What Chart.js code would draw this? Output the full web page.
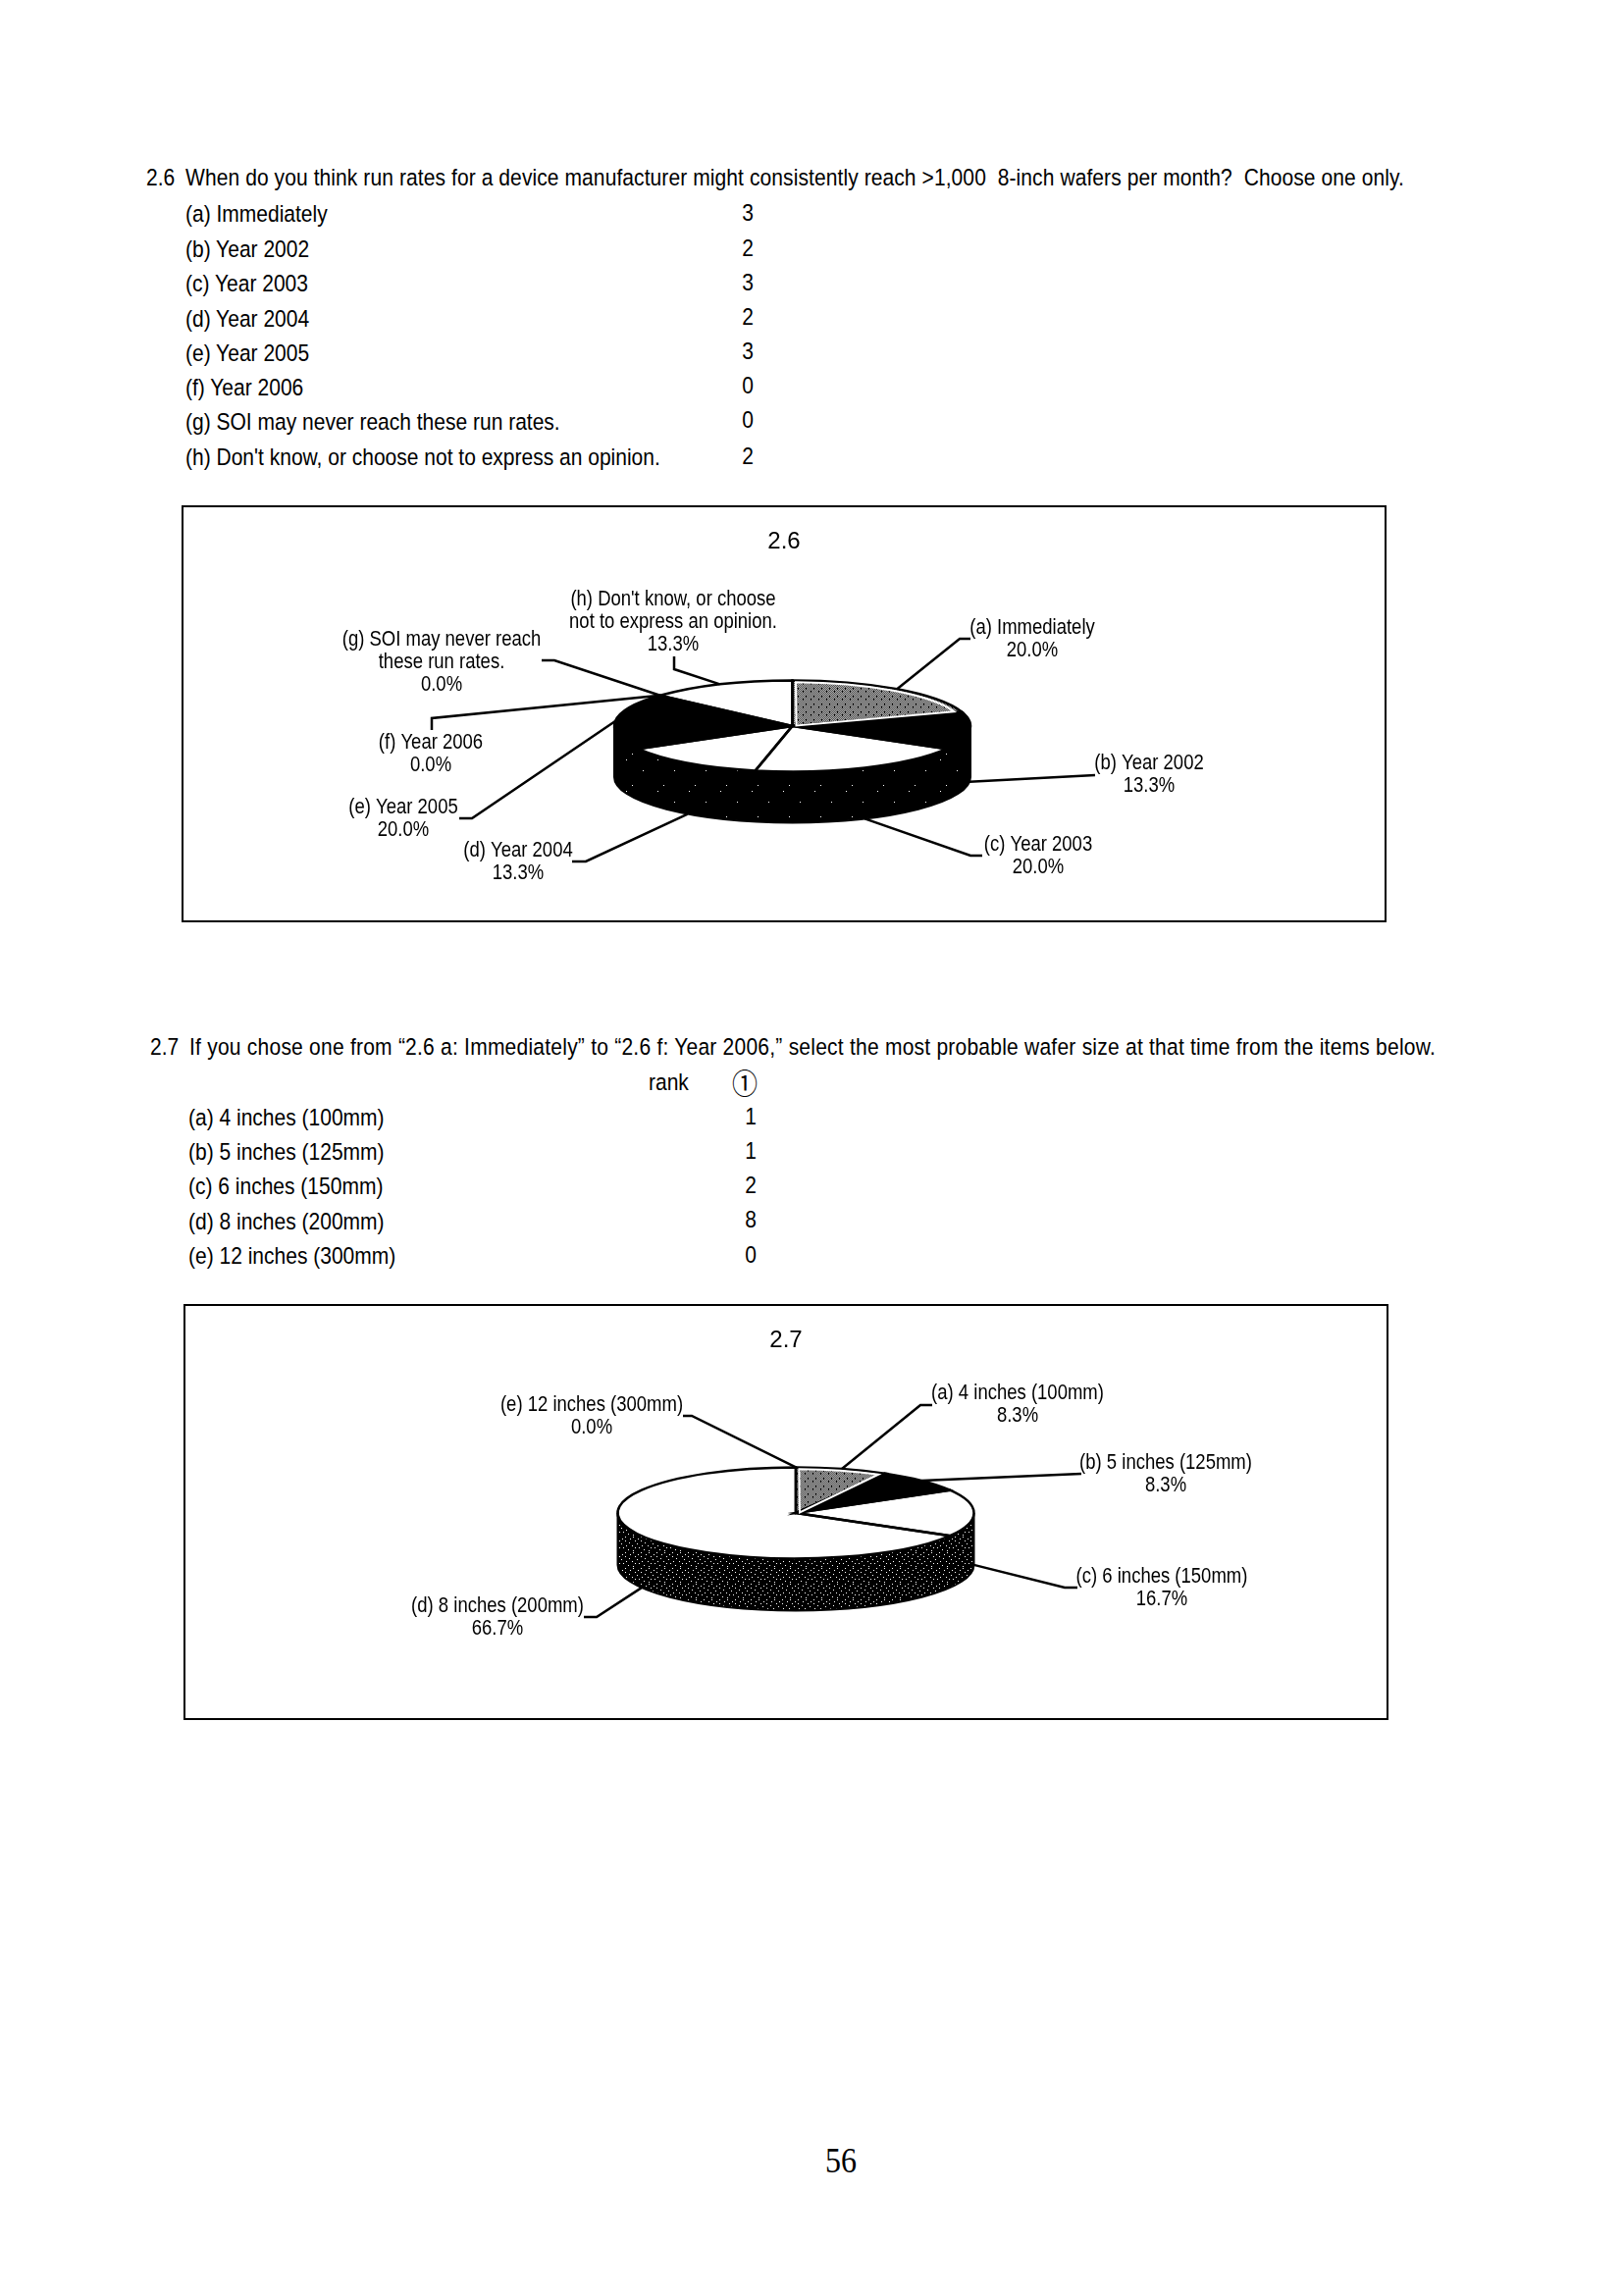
<!DOCTYPE html>
<html>
<head>
<meta charset="utf-8">
<title>2.6 / 2.7</title>
<script src="https://cdn.jsdelivr.net/npm/chart.js@4"></script>
<style>
  html, body { margin: 0; background: #fff; }
  #page { position: relative; width: 1654px; height: 2340px; overflow: hidden; }
  .t { position: absolute; white-space: pre; color: #000; line-height: 1; transform: translateY(-50%) scaleY(1.15);
       font-family: "Liberation Sans", sans-serif; font-size: 21px; }
  .c { transform: translate(-50%, -50%) scaleY(1.15); }
  canvas { position: absolute; outline: 2.5px solid #000; outline-offset: -2.5px; }
</style>
</head>
<body>
<div id="page"></div>
<script>
// question 2.6
const q26 = "When do you think run rates for a device manufacturer might consistently reach >1,000  8-inch wafers per month?  Choose one only.";
const cats26 = ["(a) Immediately", "(b) Year 2002", "(c) Year 2003", "(d) Year 2004", "(e) Year 2005", "(f) Year 2006",
  "(g) SOI may never reach these run rates.", "(h) Don't know, or choose not to express an opinion."];
const vals26 = [3, 2, 3, 2, 3, 0, 0, 2];
const lines26 = [["(a) Immediately"], ["(b) Year 2002"], ["(c) Year 2003"], ["(d) Year 2004"], ["(e) Year 2005"], ["(f) Year 2006"],
  ["(g) SOI may never reach", "these run rates."], ["(h) Don't know, or choose", "not to express an opinion."]];

// question 2.7
const q27 = "If you chose one from \u201C2.6 a: Immediately\u201D to \u201C2.6 f: Year 2006,\u201D select the most probable wafer size at that time from the items below.";
const cats27 = ["(a) 4 inches (100mm)", "(b) 5 inches (125mm)", "(c) 6 inches (150mm)", "(d) 8 inches (200mm)", "(e) 12 inches (300mm)"];
const vals27 = [1, 1, 2, 8, 0];

const page = document.getElementById("page");

function text(x, y, str, opts) {
  opts = opts || {};
  const el = document.createElement("div");
  el.className = opts.center ? "t c" : "t";
  el.style.left = x + "px";
  el.style.top = y + "px";
  if (opts.size) el.style.fontSize = opts.size + "px";
  if (opts.font) el.style.fontFamily = opts.font;
  el.textContent = str;
  page.appendChild(el);
  // stretch the long question lines to their printed width
  if (opts.width) {
    const extra = (opts.width - el.getBoundingClientRect().width) / str.length;
    el.style.letterSpacing = extra + "px";
  }
}

// page text
text(149, 180, "2.6");
text(189, 180, q26, { width: 1242 });
const rowY26 = [217, 253, 288, 324, 359, 394, 429, 465];
const valY26 = [216, 252, 287, 322, 357, 392, 427, 464];
cats26.forEach((c, i) => {
  text(189, rowY26[i], c);
  text(762, valY26[i], String(vals26[i]), { center: true });
});

text(153, 1066, "2.7");
text(193, 1066, q27, { width: 1270 });
text(661, 1102, "rank");
text(759, 1102, "\u2460", { center: true, size: 26, font: '"Noto Sans CJK JP"' });
const rowY27 = [1138, 1173, 1208, 1244, 1279];
const valY27 = [1137, 1172, 1207, 1242, 1278];
cats27.forEach((c, i) => {
  text(192, rowY27[i], c);
  text(765, valY27[i], String(vals27[i]), { center: true });
});
text(857, 2201, "56", { center: true, size: 32, font: '"Liberation Serif"' });

// small pixel tiles for the scanned halftone
function tile(rows, on, off) {
  const h = rows.length, w = rows[0].length;
  const cv = document.createElement("canvas");
  cv.width = w; cv.height = h;
  const g = cv.getContext("2d");
  for (let y = 0; y < h; y++) {
    for (let x = 0; x < w; x++) {
      g.fillStyle = rows[y][x] == "#" ? on : off;
      g.fillRect(x, y, 1, 1);
    }
  }
  return g.createPattern(cv, "repeat");
}
const grayRows = [
  "#.#.#.#.", ".#.#.#.#", "#.#.#.#.", ".#.###.#",
  "#.#.#.#.", ".#.#.#.#", "###.#.#.", ".#.#.#.#"];
const side26 = tile([
  "################################", "################################", "################################", "#####.##########################",
  "################################", "################################", "################################", "################################",
  "################################", "################################", "################################", "################################",
  "################################", "################################", "######################.#########", "################################",
  "################################", "################################", "################################", "################################",
  "################################", "################################", "################################", "################################",
  "################################", "################################", "################################", "################################",
  "################################", "###########.####################", "################################", "################################"], "#000", "#fff");
const side27 = tile([
  "################", "##.#########.###", "################", "######.#########",
  "##############.#", "################", "###.#####.######", "################",
  ".###########.###", "################", "#####.##########", "##########.#####",
  "################", "##.#######.#####", "################", "#######.#######."], "#000", "#fff");

function pie3d(cfg) {
  const tilt = 46.5 / 181.5;
  const toLocal = (p) => [p[0] - cfg.left, p[1] - cfg.top];

  function wedge(ctx, arc, radius) {
    ctx.beginPath();
    ctx.moveTo(arc.x, arc.y);
    ctx.arc(arc.x, arc.y, radius, arc.startAngle, arc.endAngle);
    ctx.closePath();
  }

  return {
    id: "pie3d",
    afterLayout(chart) {
      // title is centred on the whole frame, not on the padded plot
      chart.titleBlock.left = 0;
    },
    beforeDatasetsDraw(chart) {
      const ctx = chart.ctx;
      const a0 = chart.getDatasetMeta(0).data[0];
      // side wall, front half of the ellipse only
      ctx.beginPath();
      ctx.ellipse(a0.x, a0.y, a0.outerRadius, a0.outerRadius * tilt, 0, 0, Math.PI);
      ctx.ellipse(a0.x, a0.y + cfg.depth, a0.outerRadius, a0.outerRadius * tilt, 0, Math.PI, 0, true);
      ctx.closePath();
      ctx.fillStyle = cfg.side;
      ctx.fill();
      ctx.lineWidth = 2;
      ctx.strokeStyle = "#000";
      ctx.stroke();
      // squash the flat chart.js pie into the top of the disc
      ctx.save();
      ctx.translate(a0.x, a0.y);
      ctx.scale(1, tilt);
      ctx.translate(-a0.x, -a0.y);
    },
    afterDatasetsDraw(chart) {
      const ctx = chart.ctx;
      const arcs = chart.getDatasetMeta(0).data;
      // still squashed here: build the path, stroke it after the restore so line widths stay even
      const transform = ctx.getTransform();
      ctx.restore();
      const plain = ctx.getTransform();

      arcs.forEach((arc) => {
        if (arc.endAngle - arc.startAngle < 1e-6) return;
        ctx.setTransform(transform);
        wedge(ctx, arc, arc.outerRadius);
        ctx.setTransform(plain);
        ctx.lineWidth = 2.5;
        ctx.strokeStyle = "#000";
        ctx.stroke();
      });

      // white halo inside the patterned wedge
      const g = arcs[0];
      ctx.setTransform(transform);
      ctx.beginPath();
      ctx.moveTo(g.x + 4, g.y - 2);
      ctx.arc(g.x, g.y, g.outerRadius - 7, g.startAngle + 0.02, g.endAngle - 0.02);
      ctx.closePath();
      ctx.setTransform(plain);
      ctx.lineWidth = 2;
      ctx.strokeStyle = "#fff";
      ctx.stroke();

      // leaders run from the middle of each slice's rim
      ctx.lineWidth = 2.5;
      ctx.strokeStyle = "#000";
      ctx.fillStyle = "#000";
      ctx.font = '18.5px "Liberation Sans", sans-serif';
      ctx.textAlign = "center";
      ctx.textBaseline = "middle";
      arcs.forEach((arc, i) => {
        const mid = (arc.startAngle + arc.endAngle) / 2;
        const front = Math.sin(mid) > -0.001;
        const px = arc.x + arc.outerRadius * Math.cos(mid);
        const py = arc.y + arc.outerRadius * tilt * Math.sin(mid) + (front ? cfg.depth : 0);
        ctx.beginPath();
        ctx.moveTo(px, py);
        cfg.leaders[i].forEach((p) => {
          const q = toLocal(p);
          ctx.lineTo(q[0], q[1]);
        });
        ctx.stroke();

        const pct = (chart.data.datasets[0].data[i] / cfg.total * 100).toFixed(1) + "%";
        const pos = toLocal(cfg.labelPos[i]);
        cfg.lines[i].concat(pct).forEach((ln, k) => {
          ctx.save();
          ctx.translate(pos[0], pos[1] + k * 23);
          ctx.scale(1, 1.15);
          ctx.fillText(ln, 0, 0);
          ctx.restore();
        });
      });
    },
  };
}

function pieChart(cfg) {
  const cv = document.createElement("canvas");
  cv.width = cfg.width;
  cv.height = cfg.height;
  cv.style.left = cfg.left + "px";
  cv.style.top = cfg.top + "px";
  page.appendChild(cv);
  cfg.total = cfg.values.reduce((a, b) => a + b, 0);
  new Chart(cv, {
    type: "pie",
    data: {
      labels: cfg.cats,
      datasets: [{
        data: cfg.values,
        backgroundColor: cfg.colors,
        borderWidth: 0,
        radius: 181.5,
        clip: false,
      }],
    },
    options: {
      responsive: false,
      animation: false,
      events: [],
      layout: { padding: cfg.padding },
      plugins: {
        legend: { display: false },
        tooltip: { enabled: false },
        title: {
          display: true,
          text: cfg.title,
          color: "#000",
          font: { family: '"Liberation Sans", sans-serif', size: 24, weight: "normal" },
          padding: { top: 23, bottom: 0 },
        },
      },
    },
    plugins: [pie3d(cfg)],
  });
}

const gray = tile(grayRows, "#000", "#fff");
gray.setTransform(new DOMMatrix().scale(1, 181.5 / 46.5));

// chart 2.6
pieChart({
  title: "2.6", cats: cats26, values: vals26, lines: lines26,
  left: 185, top: 515, width: 1228, height: 425, depth: 52,
  padding: { left: 17, bottom: 27 },
  side: side26,
  colors: [gray, "#000", "#fff", "#fff", "#000", "#fff", "#fff", "#fff"],
  leaders: [
    [[978, 651], [989, 651]],
    [[1116, 790]],
    [[989, 872], [1001, 872]],
    [[597, 878], [583, 878]],
    [[481, 834], [468, 834]],
    [[440, 732], [440, 744]],
    [[565, 673], [552, 673]],
    [[687, 682], [687, 669]],
  ],
  labelPos: [[1052, 640], [1171, 778], [1058, 861], [528, 867], [411, 823], [439, 757], [450, 652], [686, 611]],
});

// chart 2.7
pieChart({
  title: "2.7", cats: cats27, values: vals27,
  lines: cats27.map((c) => [c]),
  left: 187, top: 1329, width: 1228, height: 424, depth: 53,
  padding: { left: 20, bottom: 50 },
  side: side27,
  colors: [gray, "#000", "#fff", "#fff", "#fff"],
  leaders: [
    [[938, 1432], [950, 1432]],
    [[1102, 1502]],
    [[1085, 1618], [1098, 1618]],
    [[608, 1648], [595, 1648]],
    [[705, 1443], [696, 1443]],
  ],
  labelPos: [[1037, 1420], [1188, 1491], [1184, 1607], [507, 1637], [603, 1432]],
});
</script>
</body>
</html>
